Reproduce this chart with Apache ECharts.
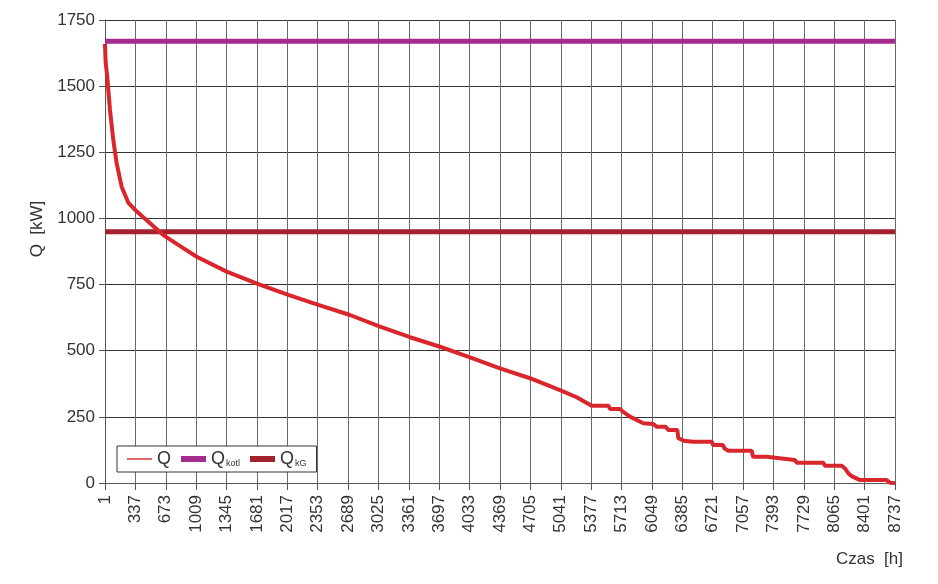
<!DOCTYPE html>
<html>
<head>
<meta charset="utf-8">
<script src="https://cdn.jsdelivr.net/npm/echarts@6/dist/echarts.min.js"></script>
<style>
  html, body { margin: 0; padding: 0; background: #fff; }
  #chart { width: 938px; height: 584px; }
</style>
</head>
<body>
<div id="chart"></div>
<script>
const hours = [1, 8, 26, 56, 93, 130, 185, 258, 350, 499, 646, 811, 1015, 1347, 1696, 2028, 2360, 2710,
  3042, 3374, 3706, 4037, 4369, 4701, 5032, 5217, 5383, 5567, 5586, 5696, 5720, 5806, 5954, 6064, 6100,
  6200, 6230, 6330, 6341, 6400, 6503, 6713, 6724, 6835, 6850, 6894, 7152, 7167, 7318, 7333, 7484, 7500,
  7631, 7650, 7944, 7963, 8147, 8184, 8220, 8258, 8350, 8645, 8682, 8737]
const qValues = [1660, 1590, 1535, 1410, 1296, 1208, 1120, 1060, 1027, 982, 937, 900, 855, 799, 752, 711, 673, 635,
  591, 551, 515, 475, 433, 396, 351, 324, 292, 292, 280, 280, 272, 251, 226, 223, 213,
  213, 200, 200, 169, 160, 156, 156, 144, 144, 131, 122, 122, 99, 99, 93, 93, 87,
  87, 77, 77, 65, 65, 55, 37, 26, 11, 11, 1, 0]
const qKotl = 1670
const qKG = 950
const yTicks = [0, 250, 500, 750, 1000, 1250, 1500, 1750]
const xTickStep = 336
const firstHour = 1
const lastHour = 8737

const font = '"Liberation Sans", Arial, sans-serif'
const textColor = '#333'

const chart = echarts.init(document.getElementById('chart'))

// os X liczona od 0, etykiety przesuniete o 1 h
const toX = h => h - firstHour
const qData = hours.map((h, i) => [toX(h), qValues[i]])
const span = [toX(firstHour), toX(lastHour)]

chart.setOption({
  animation: false,
  grid: {
    left: 105,
    right: 43,
    top: 20,
    bottom: 101
  },
  legend: {
    left: 117,
    top: 446,
    orient: 'horizontal',
    backgroundColor: '#fff',
    borderColor: '#333',
    borderWidth: 1,
    borderRadius: 0,
    padding: [4, 10, 4, 10],
    itemWidth: 25,
    itemHeight: 8,
    itemGap: 10,
    symbolKeepAspect: true,
    data: [
      { name: 'Q', icon: 'path://M0,0H25V2H0Z', itemStyle: { color: '#e06a6a' } },
      { name: 'Qkotl', icon: 'path://M0,0H25V6H0Z' },
      { name: 'QkG', icon: 'path://M0,0H25V6H0Z' }
    ],
    formatter(name) {
      if (name === 'Q') return '{m|Q}'
      if (name === 'Qkotl') return '{m|Q}{s|kotl}'
      return '{m|Q}{s|kG}'
    },
    textStyle: {
      color: textColor,
      rich: {
        m: { fontFamily: font, fontSize: 18, color: textColor },
        s: { fontFamily: font, fontSize: 9, color: textColor, verticalAlign: 'bottom', padding: [0, 0, 0, 1] }
      }
    }
  },
  xAxis: {
    type: 'value',
    min: span[0],
    max: span[1],
    interval: xTickStep,
    axisLine: { show: true, lineStyle: { color: '#555', width: 1 } },
    axisTick: { show: true, length: 7, lineStyle: { color: '#555' } },
    axisLabel: {
      rotate: 90,
      margin: 12,
      fontFamily: font,
      fontSize: 17,
      color: textColor,
      showMinLabel: true,
      showMaxLabel: true,
      formatter: v => String(v + firstHour)
    },
    splitLine: { show: true, lineStyle: { color: '#6a6a6a', width: 1 } }
  },
  yAxis: {
    type: 'value',
    min: yTicks[0],
    max: yTicks[yTicks.length - 1],
    interval: yTicks[1] - yTicks[0],
    axisLine: { show: true, lineStyle: { color: '#555', width: 1 } },
    axisTick: { show: true, length: 6, lineStyle: { color: '#555' } },
    axisLabel: {
      margin: 10,
      fontFamily: font,
      fontSize: 17,
      color: textColor,
      formatter: v => String(v)
    },
    splitLine: { show: true, lineStyle: { color: '#333', width: 1 } }
  },
  graphic: [
    {
      type: 'text',
      x: 37,
      y: 229,
      rotation: Math.PI / 2,
      style: {
        text: 'Q  [kW]',
        font: '17px ' + font,
        fill: textColor,
        align: 'center',
        verticalAlign: 'middle'
      }
    },
    {
      type: 'text',
      right: 35,
      top: 551,
      style: {
        text: 'Czas  [h]',
        font: '17px ' + font,
        fill: textColor
      }
    }
  ],
  series: [
    {
      name: 'Qkotl',
      type: 'line',
      symbol: 'none',
      data: span.map(x => [x, qKotl]),
      lineStyle: { width: 5, color: '#a52b8f' },
      itemStyle: { color: '#a52b8f' },
      z: 2
    },
    {
      name: 'QkG',
      type: 'line',
      symbol: 'none',
      data: span.map(x => [x, qKG]),
      lineStyle: { width: 5, color: '#a3212c' },
      itemStyle: { color: '#a3212c' },
      z: 2
    },
    {
      name: 'Q',
      type: 'line',
      symbol: 'none',
      data: qData,
      lineStyle: { width: 4, color: '#d9262c' },
      itemStyle: { color: '#d9262c' },
      z: 3
    }
  ]
})
</script>
</body>
</html>
